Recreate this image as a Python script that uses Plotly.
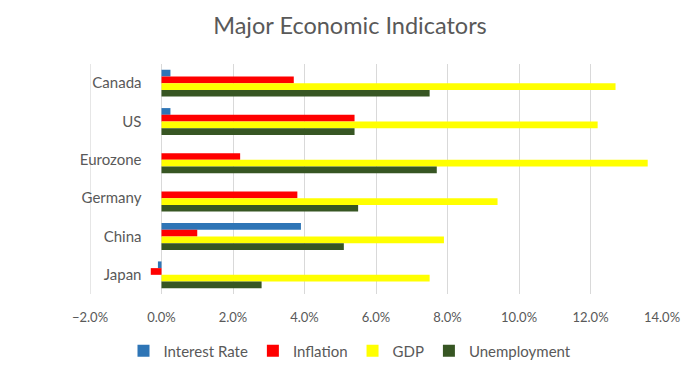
import plotly.graph_objects as go

countries = ["Canada", "US", "Eurozone", "Germany", "China", "Japan"]
interest_rate = [0.25, 0.25, 0.0, 0.0, 3.9, -0.1]
inflation = [3.7, 5.4, 2.2, 3.8, 1.0, -0.3]
gdp = [12.7, 12.2, 13.6, 9.4, 7.9, 7.5]
unemployment = [7.5, 5.4, 7.7, 5.5, 5.1, 2.8]

series = [
    ("Interest Rate", interest_rate, "#2E75B6"),
    ("Inflation", inflation, "#FF0000"),
    ("GDP", gdp, "#FFFF00"),
    ("Unemployment", unemployment, "#375623"),
]

FONT = "Lato"
GREY = "#595959"

fig = go.Figure()
for name, vals, color in series:
    fig.add_trace(go.Bar(
        y=countries, x=[v / 100 for v in vals], name=name, orientation="h",
        marker=dict(color=color, line=dict(width=0)),
    ))

# page body has an 8px margin; size the figure to fill the rest of the window
OFF = 8
W, H = 700 - OFF, 376 - OFF
L, R = 90 - OFF, 38
T, B = 64 - OFF, 82
pw = W - L - R
ph = H - T - B
zero_pos = (0 - (-2)) / 16

fig.update_layout(
    width=W, height=H,
    margin=dict(l=L, r=R, t=T, b=B, autoexpand=False),
    paper_bgcolor="white", plot_bgcolor="white",
    barmode="group", bargap=0.3, bargroupgap=0,
    title=dict(text="Major Economic Indicators", x=(350 - OFF) / W, xref="container",
               xanchor="center", y=1 - (26 - OFF) / H, yref="container", yanchor="middle",
               font=dict(family=FONT, size=23.5, color=GREY)),
    font=dict(family=FONT, size=13, color=GREY),
    xaxis=dict(range=[-0.02, 0.14], dtick=0.02, tickformat=".1%",
               showgrid=True, gridcolor="#D9D9D9", gridwidth=1.3,
               zeroline=True, zerolinecolor="#D9D9D9", zerolinewidth=1.3,
               showline=False, ticks="", ticklabelstandoff=14, automargin=False,
               tickfont=dict(family=FONT, size=13, color=GREY)),
    yaxis=dict(autorange="reversed", anchor="free", position=zero_pos,
               showgrid=False, zeroline=False, showline=False, ticks="",
               ticklabelstandoff=20, automargin=False,
               tickfont=dict(family=FONT, size=15, color=GREY)),
    legend=dict(orientation="h", x=(350 - OFF - L) / pw, xanchor="center",
                y=-(351 - 294) / ph, yanchor="middle",
                font=dict(family=FONT, size=15, color=GREY),
                itemwidth=30, tracegroupgap=0),
    shapes=[dict(type="line", xref="x", yref="paper", x0=-0.02, x1=-0.02, y0=0, y1=1,
                 line=dict(color="#D9D9D9", width=1.3), layer="below")],
    showlegend=True,
)

fig.write_html("out.html")
